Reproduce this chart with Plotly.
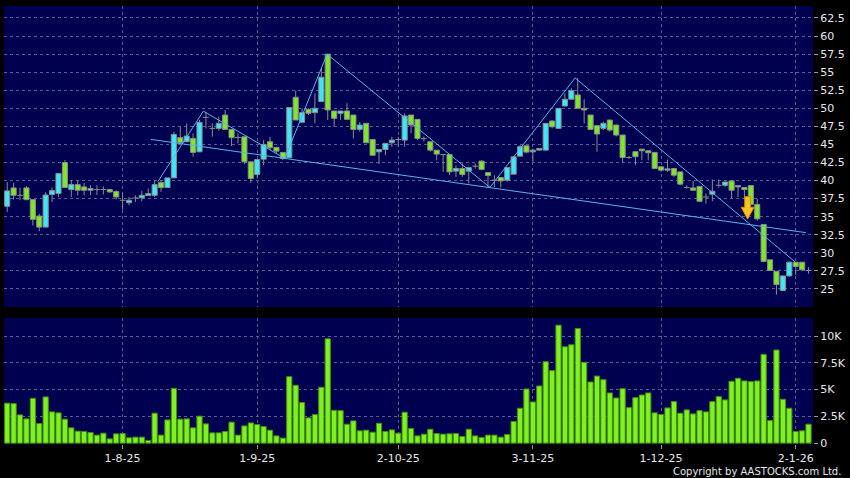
import plotly.graph_objects as go

# ---------------- data ----------------
bar_index = list(range(126))

opens = [36.44, 38.98, 37.96, 38.98, 37.36, 35.09, 33.56, 38.06, 38.2, 42.5,
         38.75, 39.44, 39.12, 38.66, 38.75, 38.75, 38.75, 38.47, 37.27, 36.94,
         37.6, 37.6, 37.92, 37.96, 39.72, 39.03, 40.37, 45.93, 45.37, 45.83,
         43.98, 48.75, 47.22, 47.22, 49.07, 47.08, 45.97, 46.06, 42.59, 40.83,
         42.96, 45.37, 44.58, 43.89, 43.15, 51.53, 48.06, 49.86, 49.4, 50.93,
         57.5, 49.63, 49.3, 49.63, 49.07, 47.08, 47.92, 45.69, 43.98, 44.3,
         45.23, 45.69, 45.6, 49.07, 48.47, 45.8, 45.37, 44.21, 43.6, 43.61,
         41.3, 41.67, 41.3, 42.0, 42.69, 41.11, 40.05, 40.42, 40.05, 40.88,
         43.38, 44.81, 43.98, 44.21, 44.21, 48.24, 47.22, 50.32, 51.25, 51.85,
         50.0, 49.07, 47.6, 47.22, 48.38, 47.69, 46.3, 43.2, 44.0, 44.35,
         44.12, 43.9, 41.9, 41.44, 41.67, 41.2, 39.03, 38.98, 39.2, 37.73,
         38.1, 39.35, 39.35, 39.95, 39.12, 39.03, 39.3, 36.7, 33.93, 29.03,
         27.45, 24.77, 26.8, 28.7, 28.7, 27.55]
highs = [39.81, 39.68, 39.03, 39.21, 37.36, 35.42, 38.43, 39.03, 40.97, 42.82,
         40.05, 40.05, 39.68, 39.35, 39.35, 39.21, 38.9, 38.66, 38.29, 37.73,
         37.96, 38.57, 38.89, 40.05, 40.05, 40.37, 46.76, 47.45, 47.92, 46.53,
         48.38, 49.54, 47.92, 48.84, 49.77, 47.08, 46.53, 46.06, 42.59, 42.92,
         45.6, 46.06, 44.68, 43.89, 50.1, 52.45, 50.0, 50.0, 52.08, 55.56,
         57.5, 49.63, 49.63, 50.7, 49.07, 48.1, 47.92, 45.69, 44.3, 45.14,
         46.06, 46.06, 49.3, 49.07, 48.47, 46.1, 45.37, 44.21, 43.6, 43.61,
         42.13, 42.37, 41.9, 42.37, 42.82, 41.11, 40.74, 40.42, 41.8, 43.29,
         44.9, 44.9, 44.44, 44.44, 47.92, 48.38, 50.0, 52.08, 52.78, 54.17,
         51.25, 49.07, 47.6, 48.15, 48.38, 47.69, 46.3, 43.4, 44.0, 44.35,
         44.12, 43.9, 41.99, 42.9, 41.67, 41.2, 39.35, 39.95, 39.2, 38.2,
         40.14, 40.14, 39.8, 39.95, 39.3, 39.03, 39.3, 37.5, 34.0, 29.03,
         27.45, 26.8, 28.8, 28.7, 28.7, 28.0]
lows = [35.65, 37.36, 37.27, 37.27, 33.8, 33.0, 33.56, 37.04, 37.73, 39.03,
        37.73, 37.96, 37.96, 37.96, 38.0, 38.06, 38.3, 37.36, 35.97, 36.57,
        37.04, 37.13, 37.87, 37.73, 38.43, 39.03, 40.37, 45.23, 45.37, 43.29,
        43.98, 47.2, 46.06, 46.9, 47.08, 44.77, 45.14, 42.27, 39.68, 40.28,
        42.13, 44.21, 43.75, 42.82, 43.15, 48.38, 48.06, 49.07, 47.92, 50.93,
        48.38, 47.45, 48.4, 48.4, 45.83, 46.76, 45.23, 43.5, 42.27, 43.5,
        44.7, 44.7, 44.68, 46.53, 45.6, 45.4, 44.0, 42.8, 41.2, 40.74,
        40.5, 40.5, 39.58, 41.67, 41.44, 39.1, 39.1, 39.03, 39.82, 40.88,
        43.33, 43.75, 42.6, 44.21, 44.21, 47.22, 47.22, 50.23, 51.16, 50.0,
        47.9, 46.99, 43.98, 46.99, 46.76, 46.1, 42.5, 43.0, 42.13, 42.8,
        42.8, 41.67, 41.21, 41.21, 40.51, 39.35, 38.89, 38.66, 37.0, 36.81,
        37.13, 39.03, 39.12, 37.5, 37.73, 37.5, 36.57, 34.45, 28.7, 27.55,
        24.2, 24.77, 26.7, 26.9, 27.55, 27.1]
closes = [38.57, 37.96, 37.96, 37.36, 34.63, 33.56, 38.0, 38.61, 40.97, 39.03,
          39.44, 38.66, 38.66, 38.89, 38.75, 38.75, 38.43, 37.73, 37.27, 37.27,
          37.6, 37.96, 38.2, 39.44, 39.03, 40.37, 46.39, 45.23, 46.16, 43.89,
          48.06, 48.75, 47.22, 47.92, 47.08, 45.93, 45.97, 42.59, 40.28, 42.92,
          45.0, 44.54, 44.07, 43.06, 50.1, 48.38, 49.4, 49.31, 50.0, 54.3,
          49.77, 48.61, 49.63, 48.47, 47.08, 47.69, 45.23, 43.5, 44.3, 45.14,
          45.6, 45.69, 48.94, 47.69, 45.83, 45.8, 44.21, 43.66, 43.6, 41.2,
          41.67, 40.83, 41.8, 42.0, 41.53, 40.69, 40.05, 39.95, 41.8, 43.29,
          44.68, 43.94, 44.21, 44.44, 47.92, 47.45, 50.0, 51.25, 52.45, 50.0,
          49.77, 47.08, 46.44, 47.92, 46.99, 46.3, 43.19, 43.2, 43.3, 44.12,
          43.84, 41.67, 41.44, 41.62, 40.74, 39.5, 39.03, 38.66, 37.13, 37.73,
          38.52, 39.35, 39.8, 38.66, 39.3, 38.75, 36.7, 34.7, 28.8, 27.55,
          25.6, 26.8, 28.7, 28.1, 27.64, 27.55]
volumes = [3730, 3700, 2640, 2270, 4190, 1830, 4320, 2920, 2830, 2240,
           1430, 1120, 1090, 990, 750, 930, 400, 870, 900, 500,
           560, 560, 250, 2800, 750, 2170, 5120, 2240, 2270, 1430,
           2520, 1800, 960, 960, 1090, 1960, 750, 1610, 1890, 1740,
           1550, 1210, 680, 470, 6210, 5400, 3790, 2360, 2670, 5220,
           9750, 3070, 3040, 1770, 2080, 1150, 1210, 1020, 1860, 1090,
           1240, 930, 2890, 1370, 680, 840, 1300, 900, 840, 870,
           900, 620, 1300, 680, 530, 750, 750, 560, 810, 2020,
           3260, 5060, 3850, 5340, 7610, 6770, 11020, 9000, 9190, 10710,
           7550, 5710, 6270, 5930, 4690, 4220, 5090, 3320, 4250, 4500,
           4690, 2830, 2670, 3290, 3880, 2800, 3110, 2730, 3040, 2920,
           3880, 4350, 4040, 5780, 6060, 5810, 5750, 5810, 8290, 2110,
           8700, 4100, 3260, 1090, 1150, 1770]

# month tick positions (bar index) and labels
month_ticks = [18, 39, 61, 82, 102, 123]
month_labels = ["1-8-25", "1-9-25", "2-10-25", "3-11-25", "1-12-25", "2-1-26"]
price_ticks = [25, 27.5, 30, 32.5, 35, 37.5, 40, 42.5, 45, 47.5, 50, 52.5, 55, 57.5, 60, 62.5]
price_labels = ["25", "27.5", "30", "32.5", "35", "37.5", "40", "42.5", "45", "47.5",
                "50", "52.5", "55", "57.5", "60", "62.5"]
vol_ticks = [0, 2500, 5000, 7500, 10000]
vol_labels = ["0", "2.5K", "5K", "7.5K", "10K"]

# drawn trend lines (bar index, price)
zigzag_x = [23.5, 30.6, 43.3, 49.9, 75.3, 88.6, 122.9]
zigzag_y = [39.85, 49.6, 43.06, 57.5, 39.05, 54.2, 28.75]
trend_x = [22.4, 124.6]
trend_y = [45.7, 32.79]
# sell-signal arrow: bar index, top price, neck price, tip price
signal_x = 115.5
signal_prices = [37.77, 36.31, 34.65]

# ---------------- styles ----------------
CYAN = "#3fe6f6"
GREEN = "#80e62a"
EDGE = "#8c8c8c"
GRID = "#5c5c94"
NAVY = "#000050"
LINE_BLUE = "#5ab4e6"
VOL_FILL = "#80f020"
VOL_EDGE = "#3f8f10"
TXT = "#e8e8e8"

up = [i for i in bar_index if closes[i] > opens[i]]
down = [i for i in bar_index if closes[i] < opens[i]]
flat = [i for i in bar_index if closes[i] == opens[i]]

fig = go.Figure()

# wicks (outside the bodies)
wx, wy = [], []
for i in bar_index:
    top = max(opens[i], closes[i])
    bot = min(opens[i], closes[i])
    if highs[i] > top:
        wx += [i, i, None]
        wy += [highs[i], top, None]
    if lows[i] < bot:
        wx += [i, i, None]
        wy += [bot, lows[i], None]
fig.add_trace(go.Scatter(x=wx, y=wy, mode="lines", line=dict(color=EDGE, width=1),
                         xaxis="x", yaxis="y", hoverinfo="skip"))

# bodies
fig.add_trace(go.Bar(x=up, y=[closes[i] - opens[i] for i in up], base=[opens[i] for i in up],
                     width=0.8, marker=dict(color=CYAN, line=dict(color=EDGE, width=1)),
                     xaxis="x", yaxis="y"))
fig.add_trace(go.Bar(x=down, y=[opens[i] - closes[i] for i in down], base=[closes[i] for i in down],
                     width=0.8, marker=dict(color=GREEN, line=dict(color=EDGE, width=1)),
                     xaxis="x", yaxis="y"))
# doji crosses
dx, dy = [], []
for i in flat:
    dx += [i - 0.45, i + 0.45, None]
    dy += [opens[i], opens[i], None]
fig.add_trace(go.Scatter(x=dx, y=dy, mode="lines", line=dict(color=EDGE, width=1),
                         xaxis="x", yaxis="y", hoverinfo="skip"))

# trend lines
fig.add_trace(go.Scatter(x=zigzag_x, y=zigzag_y, mode="lines", line=dict(color=LINE_BLUE, width=1),
                         xaxis="x", yaxis="y", hoverinfo="skip"))
fig.add_trace(go.Scatter(x=trend_x, y=trend_y, mode="lines", line=dict(color=LINE_BLUE, width=1),
                         xaxis="x", yaxis="y", hoverinfo="skip"))

# volume
fig.add_trace(go.Bar(x=bar_index, y=volumes, width=0.82,
                     marker=dict(color=VOL_FILL, line=dict(color=VOL_EDGE, width=1)),
                     xaxis="x2", yaxis="y2"))

# signal arrow
sx = signal_x
top_p, neck_p, tip_p = signal_prices
path = (f"M {sx-0.45},{top_p} L {sx+0.45},{top_p} L {sx+0.45},{neck_p} L {sx+1.0},{neck_p} "
        f"L {sx},{tip_p} L {sx-1.0},{neck_p} L {sx-0.45},{neck_p} Z")
fig.add_shape(type="path", path=path, xref="x", yref="y",
              fillcolor="#f6c420", line=dict(color="#d98a00", width=1))

axis_common = dict(showline=False, zeroline=False, showgrid=True, gridcolor=GRID,
                   griddash="3px,3px", gridwidth=1)

fig.update_layout(
    width=850, height=478,
    margin=dict(l=4, r=35, t=6, b=34),
    paper_bgcolor="black", plot_bgcolor=NAVY,
    showlegend=False, barmode="overlay",
    font=dict(family="DejaVu Sans", color=TXT, size=11),
    xaxis=dict(domain=[0, 1], anchor="y", range=[-0.5, 125.7], tickvals=month_ticks,
               ticktext=month_labels, showticklabels=False, ticks="", **axis_common),
    xaxis2=dict(domain=[0, 1], anchor="y2", matches="x", range=[-0.5, 125.7], tickvals=month_ticks,
                ticktext=month_labels, ticks="outside", ticklen=4, tickcolor="#9a9a9a",
                tickfont=dict(color=TXT, size=11), **axis_common),
    yaxis=dict(domain=[0.3128, 1], anchor="x", side="right", range=[22.5, 64.16],
               tickvals=price_ticks, ticktext=price_labels, ticks="outside", ticklen=4,
               tickcolor="#9a9a9a", tickfont=dict(color=TXT, size=11), **axis_common),
    yaxis2=dict(domain=[0, 0.2877], anchor="x2", side="right", range=[-80, 11690],
                tickvals=vol_ticks, ticktext=vol_labels, ticks="outside", ticklen=4,
                tickcolor="#9a9a9a", tickfont=dict(color=TXT, size=11), **axis_common),
)

fig.add_annotation(text="Copyright by AASTOCKS.com Ltd.", xref="paper", yref="paper",
                   x=1.037, y=-0.062, xanchor="right", yanchor="middle", showarrow=False,
                   font=dict(family="DejaVu Sans", size=10, color=TXT))

fig.write_html("out.html", config={"displayModeBar": False},
               post_script="document.body.style.margin='0px';document.body.style.background='black';")
